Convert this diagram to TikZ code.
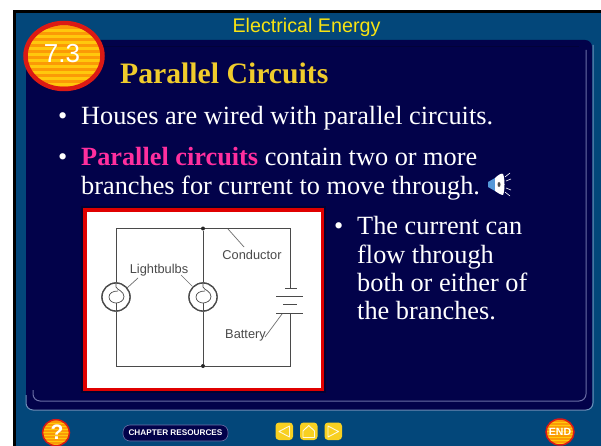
\documentclass[tikz,border=0pt]{standalone}
\usepackage{fontspec}
\setmainfont{Liberation Serif}
\newfontfamily\arialf{Liberation Sans}
\usetikzlibrary{calc}
\definecolor{slideblue}{HTML}{03477A}
\definecolor{navy}{HTML}{02024A}
\definecolor{edgeblue}{HTML}{6F8FB8}
\definecolor{edgein}{HTML}{6A6FA6}
\definecolor{titleyellow}{HTML}{F0CC2C}
\definecolor{headyellow}{HTML}{F8E312}
\definecolor{hotpink}{HTML}{FF2F9E}
\definecolor{ovalred}{HTML}{DC1A14}
\definecolor{ovalorange}{HTML}{FB9A06}
\definecolor{ovalyellow}{HTML}{FFC80C}
\definecolor{wire}{HTML}{4A4A4A}
\definecolor{btnyellow}{HTML}{F8D021}
\tikzset{
  x=1pt,y=-1pt,
  body/.style={anchor=base west,inner sep=0pt,text=white,font=\fontsize{26.3}{32}\selectfont,align=left},
  bulbring/.style={circle,draw=wire,line width=1.3pt,fill=white,minimum size=28pt,inner sep=0pt},
  wireline/.style={draw=wire,line width=1pt},
  leader/.style={draw=wire!80,line width=0.7pt},
  lab/.style={text=wire,font=\arialf\fontsize{12.8}{14}\selectfont,inner sep=0pt},
  junction/.style={circle,fill=black!85,minimum size=4pt,inner sep=0pt},
  navbtn/.style={draw=white!85!btnyellow,line width=0.9pt,fill=none,line join=round}
}
\newcommand{\stripedoval}[5]{% cx, cy, rx, ry, step
  \begin{scope}
    \clip (#1,#2) ellipse [x radius=#3,y radius=#4];
    \fill[ovalorange] (#1-#3,#2-#4) rectangle (#1+#3,#2+#4);
    \pgfmathsetmacro{\ybeg}{#2-#4}
    \pgfmathsetmacro{\ynext}{#2-#4+#5}
    \pgfmathsetmacro{\yend}{#2+#4}
    \foreach \yy in {\ybeg,\ynext,...,\yend}
      \fill[ovalyellow] (#1-#3,\yy) rectangle (#1+#3,\yy+#5*0.45);
  \end{scope}
}
\begin{document}
\begin{tikzpicture}
\useasboundingbox (0,0) rectangle (601,446);
\fill[white] (0,0) rectangle (601,446);
% frame
\fill[black] (13,10) rectangle (601,446);
\fill[slideblue] (16,13) rectangle (601,446);
% panel
\fill[navy,rounded corners=7pt] (26,40) rectangle (592,410);
\draw[edgeblue,line width=1pt,rounded corners=7pt] (26,395) -- (26,410) -- (593,410) -- (593,45);
\draw[edgein,line width=1pt,rounded corners=7pt] (33,390) -- (33,401) -- (586,401) -- (586,50);
\fill[navy!75!black] (33,46) rectangle (579,47.5);
% header
\node[text=headyellow,font=\arialf\fontsize{19.7}{22}\selectfont,inner sep=0pt,anchor=base] (head) at (306.5,33) {Electrical Energy};
% badge
\stripedoval{64}{56}{38}{33}{6}
\draw[ovalred,line width=4.5pt] (64,56) ellipse [x radius=38.5,y radius=33];
\node[text=white,font=\arialf\fontsize{26}{28}\selectfont,inner sep=0pt,anchor=base] (badge) at (62,63) {7.3};
% title
\node[text=titleyellow,font=\bfseries\fontsize{29.7}{32}\selectfont,inner sep=0pt,anchor=base west] (title) at (120,84) {Parallel Circuits};
% bullets
\node[body] (b1dot) at (58,125) {•};
\node[body] (b1) at (81,125) {Houses are wired with parallel circuits.};
\node[body] (b2dot) at (58,166) {•};
\node[body] (b2) at (81,166) {\textbf{\textcolor{hotpink}{Parallel circuits}} contain two or more};
\node[body] (b2b) at (81,194) {branches for current to move through.};
\node[body] (b3dot) at (334,234) {•};
\node[body] (b3a) at (357,234) {The current can};
\node[body] (b3b) at (357,263) {flow through};
\node[body] (b3c) at (357,291) {both or either of};
\node[body] (b3d) at (357,319) {the branches.};
% speaker icon
\fill[cyan!60!blue!70!white] (488,182) -- (495,178) -- (495,191) -- (488,187) -- cycle;
\fill[white] (495,178) .. controls (499,174) and (502,173) .. (503,174) .. controls (505,178) and (505,191) .. (503,195) .. controls (501,195) and (498,193) .. (495,191) -- cycle;
\fill[black!70] (499,184.5) ellipse [x radius=1.5,y radius=2.5];
\draw[white!70,line width=0.6pt] (505,177) -- (510,173) (506,181) -- (511,179) (506,188) -- (511,190) (505,192) -- (510,196);
% picture
\fill[navy!70!black] (81,206) rectangle (326,393);
\fill[white,draw=red!88!black,line width=3.5pt] (85,210) rectangle (322.5,389.5);
% circuit
\node[junction] (jt) at (203,228.5) {};
\node[junction] (jb) at (203,366) {};
\node[bulbring] (bulbL) at (116,297) {};
\node[bulbring] (bulbR) at (203,297) {};
\coordinate (tl) at (116,228.5);
\coordinate (tr) at (290,228.5);
\coordinate (bl) at (116,366);
\coordinate (br) at (290,366);
\coordinate (pA) at (290,288);
\coordinate (pD) at (290,313);
\draw[wireline] (bulbL) -- (tl) -- (jt) -- (tr) -- (pA);
\draw[wireline] (bulbL) -- (bl) -- (jb) -- (br) -- (pD);
\draw[wireline] (jt) -- (bulbR) -- (jb);
\node[bulbring] at (116,297) {};
\node[bulbring] at (203,297) {};
% filaments
\foreach \cx in {116,203}{
  \draw[wire,line width=0.7pt] (\cx,283) -- (\cx,287) .. controls (\cx+1,290) and (\cx+8,291) .. (\cx+8,296.5) .. controls (\cx+8,301) and (\cx+3,303) .. (\cx,303) .. controls (\cx-3,303) and (\cx-7,301) .. (\cx-7,297) .. controls (\cx-7,293) and (\cx-3,291) .. (\cx+2,291);
  \draw[wire,line width=0.7pt] (\cx,303) -- (\cx,311);
}
% battery
\draw[wireline] (285,288) -- (297,288);
\draw[wireline] (276,296) -- (303,296);
\draw[wireline] (283,304) -- (297,304);
\draw[wireline] (276,313) -- (303,313);
% labels and leaders
\node[lab,anchor=base] (lbl) at (159,273) {Lightbulbs};
\node[lab,anchor=base] (cond) at (252,259) {Conductor};
\node[lab,anchor=base] (batt) at (245.5,338) {Battery};
\coordinate (cd0) at (228,229);
\coordinate (cd1) at (244,247);
\draw[leader] (cd0) -- (cd1);
\coordinate (lb0) at (138,278);
\coordinate (lb1) at (127,288);
\coordinate (lb2) at (181,275);
\coordinate (lb3) at (192,286);
\draw[leader] (lb0) -- (lb1) (lb2) -- (lb3);
\coordinate (bt0) at (265,337);
\coordinate (bt1) at (282,314);
\draw[leader] (bt0) -- (bt1);
% bottom bar: help
\stripedoval{56}{432.7}{13.5}{13}{3}
\draw[ovalred,line width=1.5pt] (56,432.7) ellipse [x radius=13.5,y radius=13];
\node[text=white,font=\arialf\bfseries\fontsize{21}{22}\selectfont,inner sep=0pt] (help) at (57,432.5) {?};
% chapter resources
\node[fill=navy,draw=edgein,line width=0.6pt,rounded corners=7pt,text=white,font=\arialf\bfseries\fontsize{8.2}{10}\selectfont,inner sep=0pt,minimum width=105pt,minimum height=16pt] (res) at (175.5,433) {CHAPTER RESOURCES};
% nav buttons
\fill[btnyellow,rounded corners=3.5pt] (275.5,422.5) rectangle (293,440);
\fill[btnyellow,rounded corners=3.5pt] (300,422.5) rectangle (317.5,440);
\fill[btnyellow,rounded corners=3.5pt] (324.5,422.5) rectangle (342,440);
\draw[navbtn] (289.5,426) -- (279,431.5) -- (289.5,437) -- cycle;
\draw[navbtn] (303,431) -- (308.7,425.5) -- (314.5,431) -- (314.5,437.5) -- (303,437.5) -- cycle;
\draw[navbtn] (328,426) -- (338.5,431.5) -- (328,437) -- cycle;
% end
\stripedoval{560}{432}{14}{13}{3}
\draw[ovalred,line width=1.5pt] (560,432) ellipse [x radius=14,y radius=13];
\node[text=white,font=\arialf\bfseries\fontsize{10.5}{12}\selectfont,inner sep=0pt] (endb) at (560,432) {END};
\end{tikzpicture}
\end{document}
